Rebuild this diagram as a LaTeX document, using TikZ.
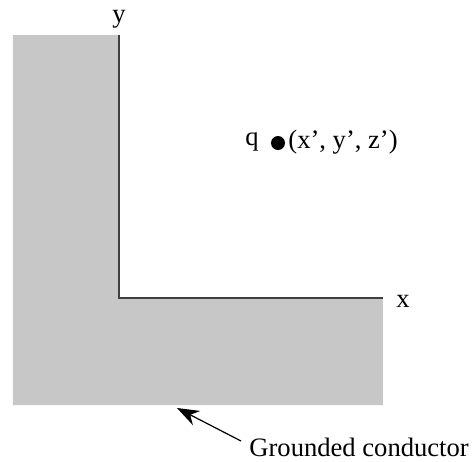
\documentclass[tikz,border=0pt]{standalone}
\usepackage{fontspec}
\setmainfont{Liberation Serif}
\usetikzlibrary{arrows.meta}
\tikzset{
  lbl/.style={inner sep=0pt,font=\fontsize{13.3}{15}\selectfont},
  axis/.style={line width=0.8pt,draw=black!75}
}
\begin{document}
\begin{tikzpicture}[x=0.5pt,y=-0.5pt]
  \useasboundingbox (0,0) rectangle (473,462);
  % conductor
  \fill[black!22] (13,35) -- (119,35) -- (119,298) -- (383,298) -- (383,405) -- (13,405) -- cycle;
  \draw[axis] (119,35) -- (119,298) -- (383,298);
  \node[lbl] (ylab) at (119,19) {y};
  \node[lbl] (xlab) at (403,301) {x};
  % charge
  \fill (278,143) circle (7);
  \node[lbl,anchor=east] (qlab) at (259,142) {q};
  \node[lbl,anchor=west] (pos) at (288,142) {(x’, y’, z’)};
  % label
  \coordinate (tip) at (177,408);
  \node[lbl,anchor=west] (gc) at (249,447) {Grounded conductor};
  \draw[line width=0.6pt,-{Stealth[length=11pt,width=8pt]}] ([xshift=-4pt,yshift=3pt]gc.west) -- (tip);
\end{tikzpicture}
\end{document}
